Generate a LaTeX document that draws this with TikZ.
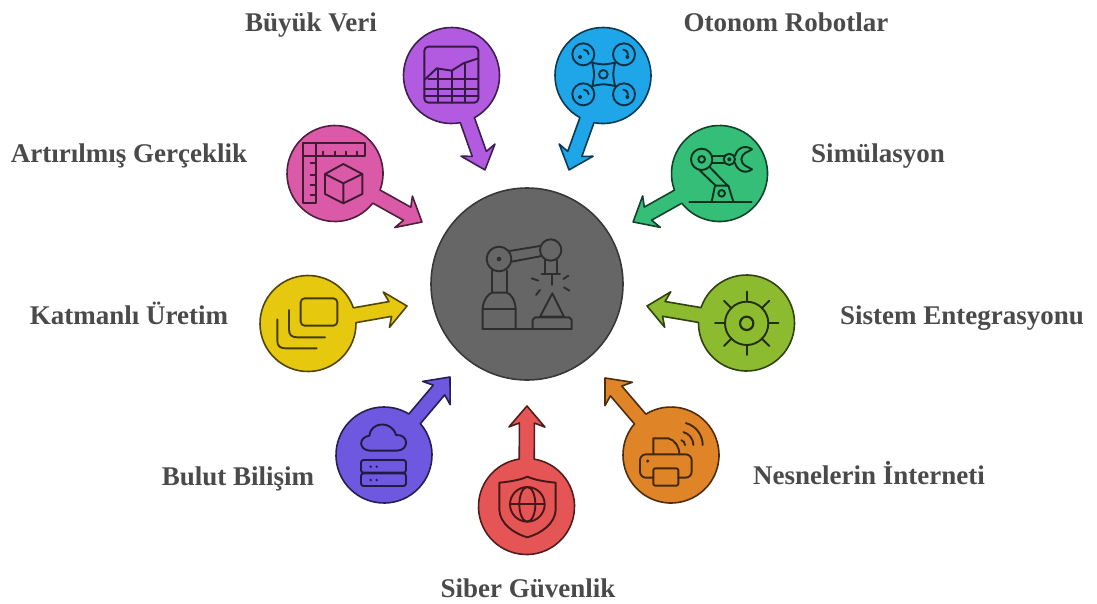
\documentclass[tikz,border=0pt]{standalone}
\usepackage{fontspec}
\setmainfont{Liberation Serif}
\definecolor{cPurple}{HTML}{B25AE0}
\definecolor{cPink}{HTML}{DB5AA8}
\definecolor{cBlue}{HTML}{1EA6E8}
\definecolor{cGreen}{HTML}{35BE78}
\definecolor{cYellow}{HTML}{E6C80F}
\definecolor{cViolet}{HTML}{6F58E0}
\definecolor{cRed}{HTML}{E65555}
\definecolor{cOrange}{HTML}{E08428}
\definecolor{cLime}{HTML}{8DBB30}
\definecolor{cText}{HTML}{4A4A4A}
\definecolor{cHub}{HTML}{666666}
\tikzset{
  label text/.style={font=\bfseries\fontsize{27}{31}\selectfont, text=cText, inner sep=0pt, anchor=base},
  ico/.style={line width=1.9pt, line cap=round, line join=round},
}
% #1 name, #2,#3 centre, #4,#5 arrow tip, #6 colour
\newcommand{\pinshape}[6]{%
  \coordinate (c#1) at (#2,#3);
  \coordinate (t#1) at (#4,#5);
  \pgfmathsetmacro{\pinang}{atan2(-(#5-#3),#4-#2)}
  \pgfmathsetmacro{\pinlen}{veclen(#4-#2,#5-#3)}
  \begin{scope}[shift={(c#1)},rotate=\pinang]
    \draw[line width=1.6pt, line join=round, draw=#6!35!black, fill=#6]
      (9:48) arc[start angle=9,end angle=351,radius=48]
      -- (\pinlen-17,-7.5) -- (\pinlen-21,-18) -- (\pinlen,0)
      -- (\pinlen-21,18) -- (\pinlen-17,7.5) -- cycle;
  \end{scope}}
\begin{document}
\begin{tikzpicture}[x=1pt,y=-1pt]
\useasboundingbox (0,0) rectangle (1097,603);
\fill[white] (0,0) rectangle (1097,603);

% hub
\node[circle, minimum size=192pt, inner sep=0pt, fill=cHub, draw=cHub!55!black, line width=1.6pt] (hub) at (527,284) {};

% pins
\pinshape{Veri}{451.5}{75.5}{485}{170}{cPurple}
\pinshape{Ar}{335}{173.5}{422}{222}{cPink}
\pinshape{Robot}{603}{75.5}{569}{170}{cBlue}
\pinshape{Sim}{719.5}{173.5}{633}{222}{cGreen}
\pinshape{Kat}{308}{323.5}{407}{306}{cYellow}
\pinshape{Sis}{746.5}{323}{647}{306}{cLime}
\pinshape{Bulut}{384}{455}{450}{377}{cViolet}
\pinshape{Nes}{671}{455}{605}{378}{cOrange}
\pinshape{Sib}{526.5}{506.5}{527}{406}{cRed}

% labels
\node[label text] (lVeri) at (311,31) {Büyük Veri};
\node[label text] (lRobot) at (786,31) {Otonom Robotlar};
\node[label text] (lAr) at (129,162) {Artırılmış Gerçeklik};
\node[label text] (lSim) at (878,162) {Simülasyon};
\node[label text] (lKat) at (129,324) {Katmanlı Üretim};
\node[label text] (lSis) at (962,324) {Sistem Entegrasyonu};
\node[label text] (lBulut) at (238,485) {Bulut Bilişim};
\node[label text] (lNes) at (869,484) {Nesnelerin İnterneti};
\node[label text] (lSib) at (528,597) {Siber Güvenlik};

% icon: chart
\begin{scope}[shift={(260,20)},scale=1/3,ico,draw=cPurple!30!black]
  \draw[rounded corners=4pt] (493,80) rectangle (655,248);
  \draw (493,180) -- (530,145) -- (575,152) -- (610,130) -- (655,115);
  \draw (505,178) -- (655,178) (493,207) -- (655,207) (493,228) -- (655,228);
  \draw (533,145) -- (533,248) (575,152) -- (575,248) (615,128) -- (615,248);
\end{scope}

% icon: ruler and cube
\begin{scope}[shift={(260,20)},scale=1/3,ico,draw=cPink!30!black]
  \draw (128,368) -- (315,368) -- (315,408) -- (168,408) -- (168,550) -- (128,550) -- cycle;
  \draw (168,368) -- (168,408) -- (128,408);
  \foreach \q in {190,225,258,290} \draw (\q,408) -- (\q,395);
  \foreach \q in {430,465,495,525} \draw (168,\q) -- (152,\q);
  \draw (250,432) -- (307,462) -- (307,522) -- (250,550) -- (195,522) -- (195,462) -- cycle;
  \draw (195,462) -- (250,490) -- (307,462) (250,490) -- (250,550);
\end{scope}

% icon: drone
\begin{scope}[shift={(540,20)},scale=1/3,ico,draw=cBlue!30!black]
  \foreach \a/\b/\s in {130/103/1,252/103/-1,130/223/1,252/223/-1}{
    \draw (\a,\b) circle[radius=33];
    \draw (\a-\s*10,\b+8) circle[radius=3.5];
    \draw (\a+\s*2,\b-14) arc[start angle=-90,end angle=0,radius=14];
  }
  \draw (157,128) .. controls (190,135) .. (225,128) .. controls (218,163) .. (225,198)
        .. controls (190,191) .. (157,198) .. controls (164,163) .. (157,128) -- cycle;
  \draw (190,163) circle[radius=13];
\end{scope}

% icon: robot arm, green
\begin{scope}[shift={(540,20)},scale=1/3,ico,draw=cGreen!25!black]
  \draw (448,545) -- (635,545);
  \draw (515,545) -- (525,497) -- (565,497) -- (580,545);
  \draw (545,520) circle[radius=10];
  \draw (478,450) -- (527,497) (508,440) -- (563,497);
  \draw (485,418) circle[radius=32] (485,418) circle[radius=10];
  \draw (516,408) -- (552,408) (516,428) -- (552,428);
  \draw (568,418) circle[radius=17] (568,418) circle[radius=4];
  \draw (585,408) .. controls (590,385) and (615,372) .. (636,388)
        .. controls (625,396) and (605,398) .. (604,418)
        .. controls (605,438) and (625,440) .. (636,448)
        .. controls (615,464) and (590,451) .. (585,428);
\end{scope}

% icon: hub robot
\begin{scope}[shift={(420,180)},scale=1/3,ico,draw=cHub!45!black]
  \draw (188,447) -- (455,447);
  \draw (188,447) -- (188,385) .. controls (190,360) and (205,340) .. (217,338) -- (260,338)
        .. controls (272,340) and (285,360) .. (287,385) -- (287,447);
  \draw (188,387) -- (287,387);
  \draw (217,338) -- (217,272) (260,338) -- (260,272);
  \draw (237,237) circle[radius=37];
  \fill[cHub!45!black] (237,237) circle[radius=7];
  \draw (268,213) -- (360,198) (275,245) -- (365,228);
  \draw (392,210) circle[radius=32];
  \draw (375,240) -- (375,282) (410,240) -- (410,282) (365,282) -- (420,282) (395,282) -- (395,315);
  \draw (335,295) -- (355,302) (445,287) -- (430,297) (348,345) -- (360,330) (448,332) -- (432,322);
  \draw (360,410) -- (397,340) -- (432,410) -- cycle;
  \draw (338,447) -- (338,420) -- (345,412) -- (448,412) -- (455,420) -- (455,447);
\end{scope}

% icon: layers
\begin{scope}[shift={(250,260)},scale=1/3,ico,draw=cYellow!30!black]
  \draw[rounded corners=4pt] (152,115) rectangle (262,197);
  \draw (117,150) -- (117,208) .. controls (117,225) and (125,232) .. (142,232) -- (225,232);
  \draw (82,178) -- (82,242) .. controls (82,258) and (90,265) .. (107,265) -- (200,265);
\end{scope}

% icon: cloud and server
\begin{scope}[shift={(250,260)},scale=1/3,ico,draw=cViolet!30!black]
  \draw (360,572) .. controls (325,570) and (325,532) .. (358,527)
        .. controls (362,485) and (425,480) .. (438,525)
        .. controls (478,522) and (478,572) .. (440,572) -- cycle;
  \draw[rounded corners=2.5pt] (333,600) rectangle (468,638);
  \draw[rounded corners=2.5pt] (333,640) rectangle (468,678);
  \fill[cViolet!30!black] (362,620) circle[radius=4] (380,620) circle[radius=4] (362,660) circle[radius=4] (380,660) circle[radius=4];
\end{scope}

% icon: shield and globe
\begin{scope}[shift={(470,370)},scale=1/3,ico,draw=cRed!30!black]
  \draw (88,338) .. controls (120,335) and (150,330) .. (172,320)
        .. controls (195,330) and (225,335) .. (257,338) -- (257,420)
        .. controls (255,460) and (215,490) .. (172,502)
        .. controls (130,490) and (90,460) .. (88,420) -- cycle;
  \draw (172,403) circle[radius=52];
  \draw (172,403) ellipse[x radius=24,y radius=52];
  \draw (120,403) -- (224,403);
\end{scope}

% icon: wireless printer
\begin{scope}[shift={(470,370)},scale=1/3,ico,draw=cOrange!30!black]
  \draw[rounded corners=6pt] (550,323) -- (510,323) -- (510,253) -- (665,253) -- (665,323) -- (625,323);
  \draw[rounded corners=2pt] (550,295) rectangle (625,347);
  \draw (550,253) -- (550,205) -- (595,205) .. controls (615,210) and (628,230) .. (628,253);
  \fill[cOrange!30!black] (533,273) circle[radius=5];
  \foreach \r in {15,40,68}
    \draw ({630+\r*cos(-75)},{225+\r*sin(-75)}) arc[start angle=-75,end angle=0,radius=\r];
\end{scope}

% icon: system integration
\begin{scope}[shift={(640,260)},scale=1/3,ico,draw=cLime!25!black]
  \draw (320,190) circle[radius=65];
  \draw[line width=2.2pt] (320,190) circle[radius=20];
  \draw (320,95) -- (320,125) (320,255) -- (320,285) (225,190) -- (255,190) (385,190) -- (415,190);
  \draw (252,122) -- (275,145) (388,122) -- (365,145) (252,258) -- (275,235) (388,258) -- (365,235);
\end{scope}
\end{tikzpicture}
\end{document}
